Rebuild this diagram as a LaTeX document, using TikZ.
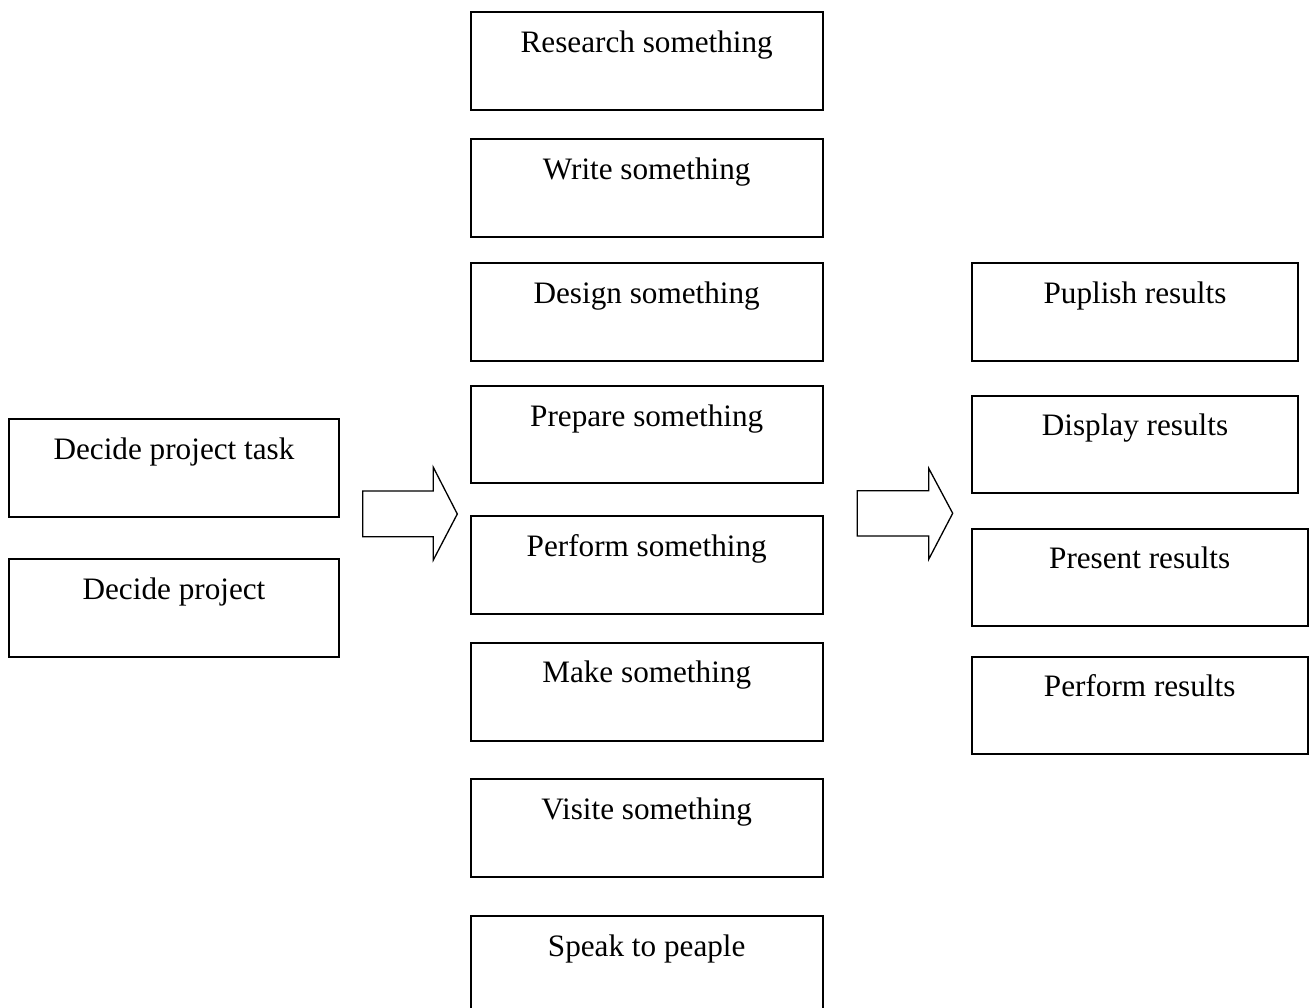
\documentclass[tikz,border=0pt]{standalone}
\usepackage{fontspec}
\setmainfont{Liberation Serif}
\begin{document}
\begin{tikzpicture}[x=1pt,y=-1pt,
  boxstyle/.style={draw=black,line width=1.7pt,rectangle,inner sep=0pt,outer sep=0pt},
  txt/.style={anchor=base,inner sep=0pt,font=\fontsize{31.2}{36}\selectfont},
  blockarrow/.style={draw=black,line width=1.3pt,fill=white,line join=miter}]
\useasboundingbox (0,0) rectangle (1310,1008);
\newcommand{\mkbox}[6]{%
  \node[boxstyle,minimum width={(#4)-(#2)},minimum height={(#5)-(#3)}] (#1) at ({((#2)+(#4))/2},{((#3)+(#5))/2}) {};
  \node[txt] (#1t) at ([yshift=-40pt]#1.north) {#6};}
\begin{scope}
\clip (0,0) rectangle (1310,1008);
% left column
\mkbox{dt}{8.7}{419.3}{339.3}{516.7}{Decide project task}
\mkbox{dp}{8.7}{559.3}{339.3}{656.7}{Decide project}
% middle column
\mkbox{m1}{470.7}{12.3}{822.7}{110}{Research something}
\mkbox{m2}{470.7}{139.3}{822.7}{236.7}{Write something}
\mkbox{m3}{470.7}{263.3}{822.7}{360.7}{Design something}
\mkbox{m4}{470.7}{386}{822.7}{483.3}{Prepare something}
\mkbox{m5}{470.7}{516.3}{822.7}{614}{Perform something}
\mkbox{m6}{470.7}{642.7}{822.7}{740.7}{Make something}
\mkbox{m7}{470.7}{779.3}{822.7}{877.3}{Visite something}
\mkbox{m8}{470.7}{916}{822.7}{1013.4}{Speak to peaple}
% right column
\mkbox{r1}{971.7}{263.3}{1298.3}{360.7}{Puplish results}
\mkbox{r2}{971.7}{395.7}{1298.3}{493.3}{Display results}
\mkbox{r3}{971.7}{528.7}{1307.7}{625.7}{Present results}
\mkbox{r4}{971.7}{656.7}{1307.7}{754}{Perform results}
\end{scope}
% block arrows
\coordinate (a1) at (362.7,491);
\draw[blockarrow] (a1) -- (433.3,491) -- (433.3,467.3) -- (457.3,514) -- (433.3,560) -- (433.3,536.7) -- (362.7,536.7) -- cycle;
\coordinate (a2) at (857.3,490.7);
\draw[blockarrow] (a2) -- (928.7,490.7) -- (928.7,468.3) -- (952.7,513.3) -- (928.7,559.3) -- (928.7,536) -- (857.3,536) -- cycle;
\end{tikzpicture}
\end{document}
